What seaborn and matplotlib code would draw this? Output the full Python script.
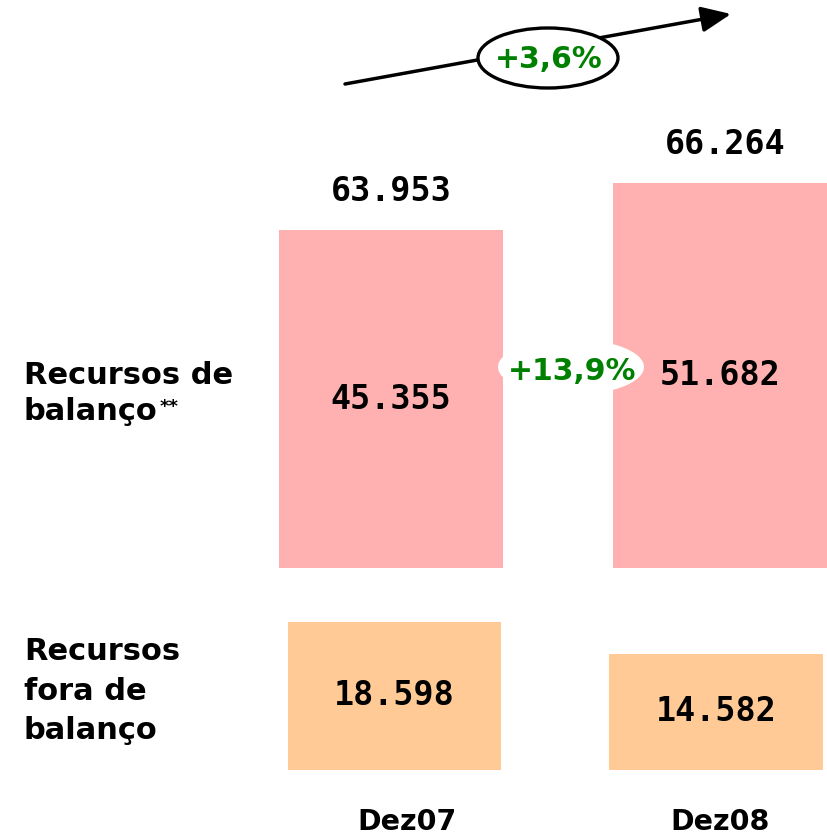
import matplotlib
matplotlib.use("Agg")
import matplotlib.pyplot as plt
import seaborn as sns
import pandas as pd
from matplotlib.patches import Ellipse

# ---- data ----
periods = ["Dez07", "Dez08"]
balanco = [45355, 51682]          # Recursos de balanço**
fora_balanco = [18598, 14582]     # Recursos fora de balanço
totals = [63953, 66264]
growth_total = "+3,6%"
growth_balanco = "+13,9%"
row1_lines = ["Recursos de", "balanço"]
row2_label = "Recursos\nfora de\nbalanço"

PINK = "#FFB0B0"
PEACH = "#FFCA96"
GREEN = "#008000"

sns.set_theme(style="white")
plt.rcParams["font.family"] = ["DejaVu Sans"]

W, H = 828, 835
fig = plt.figure(figsize=(W / 100, H / 100), dpi=100)

def fy(py):
    return 1 - py / H

def fmt(v):
    return f"{v:,}".replace(",", ".")

df_top = pd.DataFrame({"period": periods, "value": balanco})
df_bot = pd.DataFrame({"period": periods, "value": fora_balanco})

NUMFONT = dict(fontsize=24, fontweight="bold", family="DejaVu Sans Mono",
               color="black")

# top axes: bottom of bars at pixel 568
ax_top = fig.add_axes([0, fy(568), 1, 568 / H])
sns.barplot(data=df_top, x="period", y="value", color=PINK, width=0.67,
            saturation=1, ax=ax_top, edgecolor="none")
ax_top.set_xlim(-391 / 334, (W - 391) / 334)
ax_top.set_ylim(0, 568 / 0.00745)
ax_top.bar_label(ax_top.containers[0], labels=[fmt(v) for v in balanco],
                 label_type="center", **NUMFONT)
ax_top.bar_label(ax_top.containers[0], labels=[fmt(v) for v in totals],
                 label_type="edge", padding=16, **NUMFONT)
ax_top.axis("off")

# bottom axes: bottom of bars at pixel 770
ax_bot = fig.add_axes([0, fy(770), 1, 180 / H])
sns.barplot(data=df_bot, x="period", y="value", color=PEACH, width=0.664,
            saturation=1, ax=ax_bot, edgecolor="none")
ax_bot.set_xlim(-394.5 / 321.5, (W - 394.5) / 321.5)
ax_bot.set_ylim(0, 180 / 0.00796)
ax_bot.bar_label(ax_bot.containers[0], labels=[fmt(v) for v in fora_balanco],
                 label_type="center", **NUMFONT)
ax_bot.axis("off")

# overlay axes in pixel coordinates for annotations
ov = fig.add_axes([0, 0, 1, 1])
ov.set_xlim(0, W)
ov.set_ylim(H, 0)
ov.axis("off")
ov.patch.set_alpha(0)

# trend arrow with ellipse
ov.annotate("", xy=(731, 14), xytext=(345, 84),
            arrowprops=dict(arrowstyle="-|>,head_length=1.5,head_width=0.65",
                            color="black", lw=2.5, shrinkA=0, shrinkB=0))
ov.add_patch(Ellipse((548, 58), 140, 60, facecolor="white",
                     edgecolor="black", lw=2.4, zorder=3))
ov.text(549, 60, growth_total, ha="center", va="center", fontsize=21.5,
        fontweight="bold", color=GREEN, zorder=4)

# growth label between top bars
ov.add_patch(Ellipse((571, 367), 146, 56, facecolor="white",
                     edgecolor="none", zorder=3))
ov.text(572, 371, growth_balanco, ha="center", va="center", fontsize=21.5,
        fontweight="bold", color=GREEN, zorder=4)

# row labels
LBL = dict(ha="left", fontsize=22, fontweight="bold", color="black")
ov.text(24, 376, row1_lines[0], va="center", **LBL)
t2 = ov.text(24, 411, row1_lines[1], va="center", **LBL)
ov.annotate("**", xy=(1, 1), xycoords=t2, xytext=(1, -1),
            textcoords="offset points", ha="left", va="top",
            fontsize=13, fontweight="bold", color="black")
ov.text(24, 691, row2_label, va="center", linespacing=1.45, **LBL)

# period labels
for x, lab in zip([407, 720], periods):
    ov.text(x, 822, lab, ha="center", va="center", fontsize=20.5,
            fontweight="bold", color="black")

fig.savefig("out.png", dpi=100)
